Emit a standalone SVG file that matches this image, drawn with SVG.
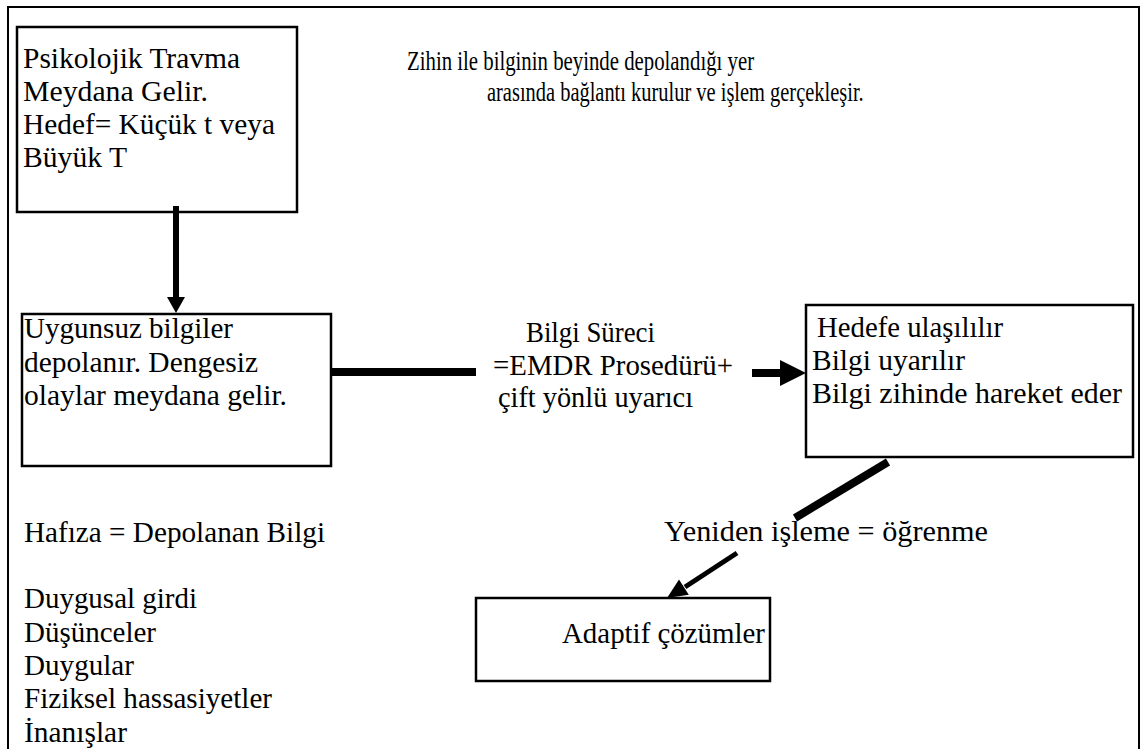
<svg xmlns="http://www.w3.org/2000/svg" width="1143" height="749" viewBox="0 0 1143 749">
  <style>
    .box { fill: #fff; stroke: #000; stroke-width: 2.5; }
    .frame { fill: none; stroke: #000; stroke-width: 2; }
    .bar { stroke: #000; fill: none; stroke-linecap: butt; }
    .head { fill: #000; stroke: none; }
  </style>
  <rect width="1143" height="749" fill="#fff"/>
  <!-- outer page frame -->
  <rect class="frame" x="8" y="7" width="1131" height="760"/>

  <g font-family="'Liberation Serif', 'Times New Roman', serif" font-size="29" fill="#000">
    <g id="node-travma">
      <rect class="box" x="17" y="27" width="280" height="185"/>
      <text x="23" y="68" textLength="217" lengthAdjust="spacingAndGlyphs">Psikolojik Travma</text>
      <text x="23" y="101" textLength="185" lengthAdjust="spacingAndGlyphs">Meydana Gelir.</text>
      <text x="23" y="134" textLength="252" lengthAdjust="spacingAndGlyphs">Hedef= Küçük t veya</text>
      <text x="23" y="167" textLength="104" lengthAdjust="spacingAndGlyphs">Büyük T</text>
    </g>

    <!-- caption set with condensed character width -->
    <g id="note-zihin" font-size="28">
      <text transform="translate(407,70) scale(0.743,1)">Zihin ile bilginin beyinde depolandığı yer</text>
      <text transform="translate(487,101) scale(0.73,1)">arasında bağlantı kurulur ve işlem gerçekleşir.</text>
    </g>

    <g id="node-uygunsuz">
      <rect class="box" x="22" y="314" width="309" height="152"/>
      <text x="24" y="338" textLength="209" lengthAdjust="spacingAndGlyphs">Uygunsuz bilgiler</text>
      <text x="24" y="372" textLength="234" lengthAdjust="spacingAndGlyphs">depolanır. Dengesiz</text>
      <text x="24" y="405" textLength="263" lengthAdjust="spacingAndGlyphs">olaylar meydana gelir.</text>
    </g>

    <g id="label-bilgi-sureci">
      <text x="526" y="342" textLength="129" lengthAdjust="spacingAndGlyphs">Bilgi Süreci</text>
      <text x="493" y="375" textLength="240" lengthAdjust="spacingAndGlyphs">=EMDR Prosedürü+</text>
      <text x="498" y="407" textLength="195" lengthAdjust="spacingAndGlyphs">çift yönlü uyarıcı</text>
    </g>

    <g id="node-hedef">
      <rect class="box" x="806" y="305" width="327" height="152"/>
      <text x="817" y="337" textLength="186" lengthAdjust="spacingAndGlyphs">Hedefe ulaşılılır</text>
      <text x="812" y="370" textLength="153" lengthAdjust="spacingAndGlyphs">Bilgi uyarılır</text>
      <text x="812" y="403" textLength="310" lengthAdjust="spacingAndGlyphs">Bilgi zihinde hareket eder</text>
    </g>

    <g id="label-yeniden">
      <text x="664" y="541" textLength="324" lengthAdjust="spacingAndGlyphs">Yeniden işleme = öğrenme</text>
    </g>

    <g id="node-adaptif">
      <rect class="box" x="476" y="598" width="294" height="83"/>
      <text x="562" y="643" textLength="203" lengthAdjust="spacingAndGlyphs">Adaptif çözümler</text>
    </g>

    <g id="note-hafiza">
      <text x="24" y="542" textLength="301" lengthAdjust="spacingAndGlyphs">Hafıza = Depolanan Bilgi</text>
      <text x="24" y="608" textLength="173" lengthAdjust="spacingAndGlyphs">Duygusal girdi</text>
      <text x="24" y="642" textLength="132" lengthAdjust="spacingAndGlyphs">Düşünceler</text>
      <text x="24" y="675" textLength="110" lengthAdjust="spacingAndGlyphs">Duygular</text>
      <text x="24" y="708" textLength="248" lengthAdjust="spacingAndGlyphs">Fiziksel hassasiyetler</text>
      <text x="24" y="742" textLength="103" lengthAdjust="spacingAndGlyphs">İnanışlar</text>
    </g>
  </g>

  <g id="connectors">
    <!-- travma -> uygunsuz -->
    <line class="bar" x1="176" y1="206" x2="176" y2="298" stroke-width="6"/>
    <polygon class="head" points="167,297 185,297 176,313"/>
    <!-- uygunsuz -> bilgi süreci -->
    <line class="bar" x1="331" y1="372" x2="476" y2="372" stroke-width="8"/>
    <!-- bilgi süreci -> hedef -->
    <line class="bar" x1="752" y1="373" x2="782" y2="373" stroke-width="8"/>
    <polygon class="head" points="780,360 780,386 806,373"/>
    <!-- hedef -> yeniden işleme -->
    <line class="bar" x1="888" y1="462" x2="795" y2="518" stroke-width="8"/>
    <!-- yeniden işleme -> adaptif -->
    <line class="bar" x1="737" y1="553" x2="685" y2="587" stroke-width="5"/>
    <polygon class="head" points="688.8,594.8 679,579.6 667,598"/>
  </g>
</svg>
